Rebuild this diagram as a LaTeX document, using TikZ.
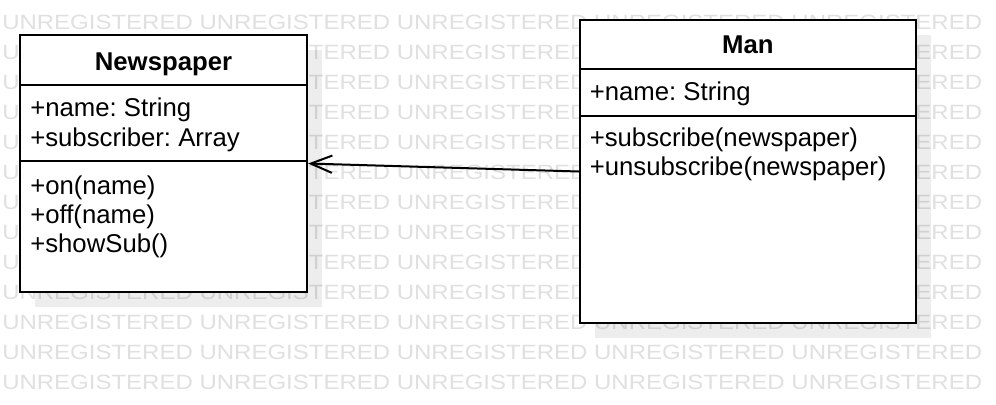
\documentclass[tikz,border=0pt]{standalone}
\usepackage{fontspec}
\setmainfont{Liberation Sans}
\frenchspacing
\usetikzlibrary{arrows.meta,shadows}

\begin{document}
\begin{tikzpicture}[x=0.75pt, y=-0.75pt,
    classbox/.style = {draw, fill=white, line width=1.7pt, inner sep=0pt, drop shadow={shadow xshift=11.25pt, shadow yshift=-11.25pt, fill=black, opacity=.07}},
    divider/.style = {line width=1.5pt},
    title/.style = {font=\fontsize{19.3}{22}\selectfont\bfseries, anchor=base, inner sep=0pt},
    member/.style = {font=\fontsize{19.3}{22}\selectfont, anchor=base west, inner sep=0pt},
    assoc/.style = {line width=1.5pt, -{Straight Barb[length=16pt, width=13pt]}},
    stamp/.style = {text=black!12, font=\fontsize{15.5}{15.5}\selectfont, anchor=base west, inner sep=0pt}]

    % page
    \clip (0,0) rectangle (996,404);
    \fill[white] (0,0) rectangle (996,404);

    % watermark
    \foreach \k in {-1,...,12}
        \node[stamp] (wm\k) at (2,29+30*\k) {\scalebox{1.161}[1]{UNREGISTERED UNREGISTERED UNREGISTERED UNREGISTERED UNREGISTERED}};

    % classes
    \node[classbox, minimum width=215.25pt, minimum height=192.75pt] (np) at (163.5,163.5) {};
    \node[classbox, minimum width=251.8pt, minimum height=227.25pt] (man) at (747.85,171.5) {};

    % compartments
    \draw[divider] ([shift={(0,51)}]np.north west) -- ([shift={(0,51)}]np.north east);
    \draw[divider] ([shift={(0,127)}]np.north west) -- ([shift={(0,127)}]np.north east);
    \draw[divider] ([shift={(0,50.3)}]man.north west) -- ([shift={(0,50.3)}]man.north east);
    \draw[divider] ([shift={(0,96.7)}]man.north west) -- ([shift={(0,96.7)}]man.north east);

    % names
    \node[title] (npname) at (163.5,70) {Newspaper};
    \node[title] (manname) at (747.85,53.3) {Man};

    % members
    \node[member] (npa1) at (30,116.5) {+name: String};
    \node[member] (npa2) at (30,146.5) {+subscriber: Array};
    \node[member] (npo1) at (30,194) {+on(name)};
    \node[member] (npo2) at (30,223) {+off(name)};
    \node[member] (npo3) at (30,252) {+showSub()};
    \node[member] (mana1) at (589.5,100) {+name: String};
    \node[member] (mano1) at (589.5,146.5) {+subscribe(newspaper)};
    \node[member] (mano2) at (589.5,175.5) {+unsubscribe(newspaper)};

    % association
    \draw[assoc] (man.west) -- (np.east);

\end{tikzpicture}
\end{document}
